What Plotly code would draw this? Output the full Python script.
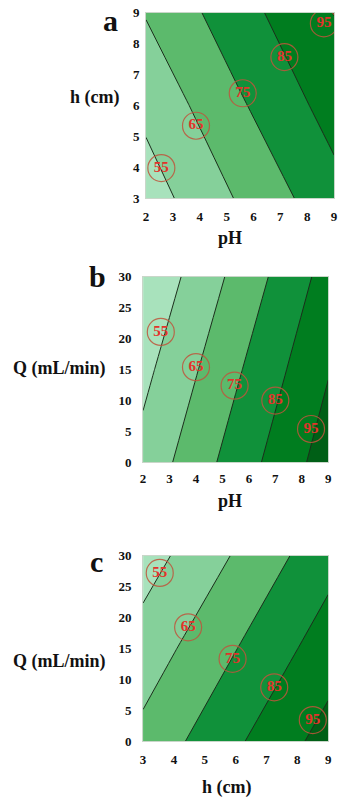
import plotly.graph_objects as go

# ---------------- data ----------------
# Panel a: pH (x) vs h (cm) (y); response estimated at grid nodes
a_ph = [2, 5.5, 9]
a_h = [3, 6, 9]
a_z = [[50.2, 66.1, 81.5],
       [57.5, 73.8, 89.0],
       [65.6, 81.4, 95.2]]
a_lab_x = [2.57, 3.86, 5.6, 7.15, 8.62]
a_lab_y = [3.98, 5.35, 6.4, 7.57, 8.66]
a_lab_t = ["55", "65", "75", "85", "95"]

# Panel b: pH (x) vs Q (mL/min) (y)
b_ph = [2, 5.5, 9]
b_q = [0, 15, 30]
b_z = [[58.3, 79.3, 99.8],
       [52.4, 73.5, 94.4],
       [46.3, 67.5, 88.8]]
b_lab_x = [2.67, 4.0, 5.46, 7.0, 8.35]
b_lab_y = [21.1, 15.4, 12.4, 10.0, 5.4]
b_lab_t = ["55", "65", "75", "85", "95"]

# Panel c: h (cm) (x) vs Q (mL/min) (y)
c_h = [3, 6, 9]
c_q = [0, 15, 30]
c_z = [[67.9, 83.4, 98.9],
       [59.4, 74.7, 90.0],
       [50.4, 65.9, 81.4]]
c_lab_x = [3.54, 4.46, 5.9, 7.25, 8.5]
c_lab_y = [27.2, 18.4, 13.3, 8.7, 3.4]
c_lab_t = ["55", "65", "75", "85", "95"]

a_xticks = [2, 3, 4, 5, 6, 7, 8, 9]
a_yticks = [3, 4, 5, 6, 7, 8, 9]
b_xticks = [2, 3, 4, 5, 6, 7, 8, 9]
q_ticks = [0, 5, 10, 15, 20, 25, 30]
c_xticks = [3, 4, 5, 6, 7, 8, 9]

band_colors = ["#a8e2bc", "#85d09a", "#5cba6c", "#10913a", "#007d1f", "#005f16"]

# ---------------- figure ----------------
SERIF = "Liberation Serif"
cscale = [[i / (len(band_colors) - 1), c] for i, c in enumerate(band_colors)]

fig = go.Figure()

panels = [
    (a_ph, a_h, a_z, a_lab_x, a_lab_y, a_lab_t, "x", "y"),
    (b_ph, b_q, b_z, b_lab_x, b_lab_y, b_lab_t, "x2", "y2"),
    (c_h, c_q, c_z, c_lab_x, c_lab_y, c_lab_t, "x3", "y3"),
]
for xs, ys, zs, lx, ly, lt, xa, ya in panels:
    fig.add_trace(go.Contour(
        x=xs, y=ys, z=zs, xaxis=xa, yaxis=ya,
        autocontour=False,
        contours=dict(start=55, end=95, size=10, coloring="fill"),
        colorscale=cscale, showscale=False,
        line=dict(color="#1c2e1c", width=1, smoothing=0),
        hoverinfo="skip",
    ))
    fig.add_trace(go.Scatter(
        x=lx, y=ly, text=lt, xaxis=xa, yaxis=ya,
        mode="markers+text", textposition="middle center",
        marker=dict(symbol="circle-open", size=27,
                    color="rgba(190,85,60,0.85)",
                    line=dict(width=1.2, color="rgba(190,85,60,0.85)")),
        textfont=dict(family=SERIF, size=15, color="#e3332a", weight="bold"),
        showlegend=False, hoverinfo="skip",
    ))

W, H = 343, 808


def dom_x(l, r):
    return [l / W, r / W]


def dom_y(t, b):
    return [1 - b / H, 1 - t / H]


tickfont = dict(family=SERIF, size=13, color="#111", weight="bold")
common = dict(showgrid=False, zeroline=False, showline=True, linecolor="#c9d6c9",
              linewidth=1, mirror=True, ticks="", tickfont=tickfont)

fig.update_layout(
    width=W, height=H, margin=dict(l=0, r=0, t=0, b=0),
    paper_bgcolor="white", plot_bgcolor="white", showlegend=False,
    xaxis=dict(domain=dom_x(146, 338), range=[2, 9], tickvals=a_xticks,
               anchor="y", ticklabelstandoff=6, **common),
    yaxis=dict(domain=dom_y(6, 195), range=[3, 9], tickvals=a_yticks,
               anchor="x", ticklabelstandoff=3, **common),
    xaxis2=dict(domain=dom_x(143, 332), range=[2, 9], tickvals=b_xticks,
                anchor="y2", ticklabelstandoff=4, **common),
    yaxis2=dict(domain=dom_y(275, 464), range=[0, 30], tickvals=q_ticks,
                anchor="x2", ticklabelstandoff=8, **common),
    xaxis3=dict(domain=dom_x(143, 332), range=[3, 9], tickvals=c_xticks,
                anchor="y3", ticklabelstandoff=6, **common),
    yaxis3=dict(domain=dom_y(559, 748), range=[0, 30], tickvals=q_ticks,
                anchor="x3", ticklabelstandoff=8, **common),
)

titlefont = dict(family=SERIF, size=18, color="#111", weight="bold")
letterfont = dict(family=SERIF, size=30, color="#111", weight="bold")


def ann(text, x, y, font):
    fig.add_annotation(text=text, x=x / W, y=1 - y / H, xref="paper", yref="paper",
                       showarrow=False, font=font, xanchor="center", yanchor="middle")


ann("a", 110, 14, letterfont)
ann("b", 96, 275, letterfont)
ann("c", 95, 565, letterfont)
ann("h (cm)", 93, 92, titlefont)
ann("pH", 232, 235, titlefont)
ann("Q (mL/min)", 58, 368, titlefont)
ann("pH", 232, 503, titlefont)
ann("Q (mL/min)", 58, 667, titlefont)
ann("h (cm)", 228, 795, titlefont)

fig.write_html("out.html")
